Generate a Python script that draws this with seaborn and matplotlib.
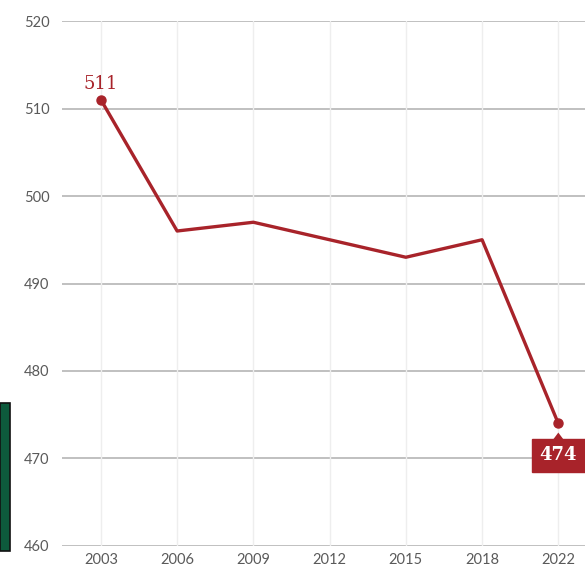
import matplotlib
matplotlib.use("Agg")
import matplotlib.pyplot as plt
import seaborn as sns
import pandas as pd
from matplotlib.patches import Rectangle

years = ["2003", "2006", "2009", "2012", "2015", "2018", "2022"]
scores = [511, 496, 497, 495, 493, 495, 474]
y_ticks = [460, 470, 480, 490, 500, 510, 520]

df = pd.DataFrame({"year": years, "score": scores})

sns.set_theme(style="white")
plt.rcParams['font.family'] = ['Lato', 'DejaVu Sans']

red = "#A8232A"
fig = plt.figure(figsize=(5.85, 5.71), dpi=100)
ax = fig.add_axes([0.106, 0.0438, 0.894, 0.9194])

sns.lineplot(data=df, x="year", y="score", color=red, linewidth=2.4, ax=ax, sort=False)
ax.plot([0, len(years) - 1], [scores[0], scores[-1]], "o", color=red, markersize=6.5, zorder=5)

ax.set_xlim(-0.51, 6.35)
ax.set_ylim(460, 520)
ax.set_yticks(y_ticks)
ax.set_xlabel("")
ax.set_ylabel("")
for s in ax.spines.values():
    s.set_visible(False)

for y in y_ticks:
    ax.axhline(y, color="#b5b5b5", linewidth=1.2, zorder=0)
for i in range(len(years)):
    ax.axvline(i, color="#eeeeee", linewidth=1.0, zorder=0)

ax.tick_params(axis="both", length=0, labelsize=10.5, labelcolor="#5a5a5a")
ax.tick_params(axis="y", pad=9)
ax.tick_params(axis="x", pad=5)

ax.annotate(str(scores[0]), (0, scores[0]), xytext=(0, 5), textcoords="offset points",
            ha="center", va="bottom", color=red, fontsize=13, family="DejaVu Serif")
last = len(years) - 1
ax.annotate(str(scores[-1]), (last, scores[-1]), xytext=(0, -23), textcoords="offset points",
            ha="center", va="center", color="white", fontsize=13, fontweight="bold", family="DejaVu Serif",
            bbox=dict(boxstyle="square,pad=0.42", fc=red, ec=red), zorder=6)
ax.annotate("", (last, scores[-1] - 0.72), xytext=(last, scores[-1] - 1.9),
            arrowprops=dict(arrowstyle="-|>,head_width=0.45,head_length=0.6", color=red, lw=0), zorder=6)

fig.patches.append(Rectangle((0.0, 1 - 551 / 571), 10 / 585, 148 / 571, transform=fig.transFigure,
                             facecolor="#0d5a3c", edgecolor="#111111", linewidth=1.2))

fig.savefig("out.png", dpi=100)
